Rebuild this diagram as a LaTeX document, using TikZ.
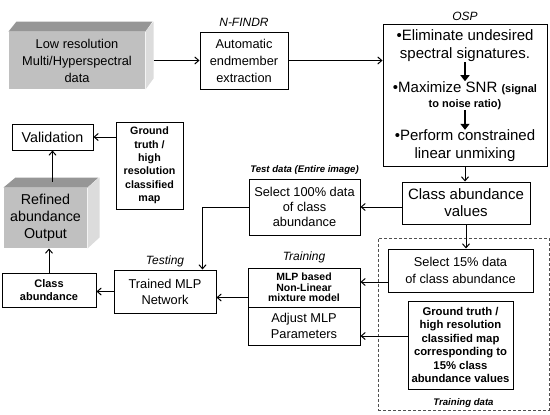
\documentclass[tikz,border=0pt]{standalone}
\usepackage{fontspec}
\setmainfont{Liberation Sans}
\usetikzlibrary{arrows.meta,positioning}
\definecolor{CubeFront}{HTML}{C0C0C0}
\definecolor{CubeTop}{HTML}{969696}
\definecolor{CubeSide}{HTML}{DCDCDC}
\definecolor{DashGray}{HTML}{505050}
\newcommand{\fsz}[2]{\fontsize{#1}{#2}\selectfont}

\begin{document}
\begin{tikzpicture}[x=1pt,y=-1pt,
  bx/.style={draw,line width=1pt,inner sep=0pt,align=center,font=\fsz{12.8}{17}},
  cb/.style={bx,draw=none,fill=CubeFront},
  bb/.style={bx,font=\fsz{10.7}{13.4}\bfseries},
  lb/.style={inner sep=0pt,font=\fsz{12}{14}\itshape},
  blb/.style={inner sep=0pt,font=\fsz{9.6}{11}\bfseries\itshape},
  a/.style={-{Straight Barb[length=4pt,width=7pt]},line width=1pt},
  ta/.style={-{Triangle[length=6pt,width=9pt]},line width=2.4pt}
]
  \useasboundingbox (0,0) rectangle (550,415);
  % top row
  \node[cb,minimum width=136,minimum height=57] (lowres) at (77,60.5)
    {Low resolution\\Multi/Hyperspectral\\data};
  \fill[CubeTop] (lowres.north west) -- ++(8,-10) -- ++(136,0) -- (lowres.north east) -- cycle;
  \fill[CubeSide] (lowres.north east) -- ++(8,-10) -- ++(0,57) -- (lowres.south east) -- cycle;
  \node[bx,minimum width=88,minimum height=57] (nfindr) at (244,60.5)
    {Automatic\\endmember\\extraction};
  \node[lb,above=5pt of nfindr] {N-FINDR};
  \node[bx,minimum width=164,minimum height=142] (osp) at (465,95) {};
  \node[lb,above=3pt of osp] {OSP};
  \node[inner sep=0pt,align=center,font=\fsz{15}{18}] (elim) at (465,46)
    {•Eliminate undesired\\spectral signatures.};
  \node[inner sep=0pt,align=center,font=\fsz{15}{18}] (snr) at (465,95.5)
    {•Maximize SNR {\fsz{11}{13}\bfseries (signal}\\[-3pt]{\fsz{11}{13}\bfseries to noise ratio)}};
  \node[inner sep=0pt,align=center,font=\fsz{15}{18}] (unmix) at (465,146)
    {•Perform constrained\\linear unmixing};
  \draw[ta] (elim) -- (snr);
  \draw[ta] (snr) -- (unmix);
  \draw[a] ([xshift=8pt]lowres.east) -- (nfindr.west);
  \draw[a] (nfindr.east) -- (nfindr.east -| osp.west);
  % middle
  \node[bx,font=\fsz{15}{17},minimum width=128,minimum height=42] (cav) at (466,203)
    {Class abundance\\values};
  \node[bx,font=\fsz{12.8}{15},minimum width=111,minimum height=56] (sel100) at (304.5,207)
    {Select 100\% data\\of class\\abundance};
  \node[blb,above=4pt of sel100] {Test data (Entire image)};
  \node[bx,font=\fsz{14.3}{17},minimum width=81,minimum height=26] (val) at (52.5,137) {Validation};
  \node[bb,minimum width=67,minimum height=87] (gtmap) at (149.5,165.5)
    {Ground\\truth /\\high\\resolution\\classified\\map};
  \node[cb,font=\fsz{14.3}{17},minimum width=83,minimum height=60] (refined) at (45.5,218)
    {Refined\\abundance\\Output};
  \fill[CubeTop] (refined.north west) -- ++(12,-10) -- ++(83,0) -- (refined.north east) -- cycle;
  \fill[CubeSide] (refined.north east) -- ++(12,-10) -- ++(0,60) -- (refined.south east) -- cycle;
  \draw[a] (osp.south) -- (osp.south |- cav.north);
  \draw[a] (cav.west |- sel100.east) -- (sel100.east);
  \draw[a] (gtmap.west |- val.east) -- (val.east);
  \draw[a] (val.south |- refined.north) ++(0,-6) -- (val.south);
  % bottom
  \node[bx,font=\fsz{12.8}{16},minimum width=102,minimum height=43] (tmlp) at (165,291.5)
    {Trained MLP\\Network};
  \node[lb,above=2pt of tmlp] {Testing};
  \node[bx,font=\fsz{11}{13.4}\bfseries,minimum width=94,minimum height=34] (cab) at (49,290)
    {Class\\abundance};
  \node[bx,font=\fsz{10.5}{10.6}\bfseries,minimum width=112,minimum height=39] (mlp) at (304,287.5)
    {MLP based\\Non-Linear\\mixture model};
  \node[bx,font=\fsz{12.8}{16},minimum width=112,minimum height=38] (adjust) at (304,326)
    {Adjust MLP\\Parameters};
  \node[lb,above=4pt of mlp] {Training};
  \node[draw=DashGray,line width=0.9pt,dash pattern=on 3pt off 2pt,minimum width=171,minimum height=172] (trdata) at (463.5,324) {};
  \node[blb,above=3pt of trdata.south] {Training data};
  \node[bx,minimum width=145,minimum height=43] (sel15) at (460.5,270.5)
    {Select 15\% data\\of class abundance};
  \node[bb,font=\fsz{11.3}{13.5}\bfseries,minimum width=105,minimum height=88] (gttrain) at (460.5,345)
    {Ground truth /\\high resolution\\classified map\\corresponding to\\15\% class\\abundance values};
  \draw[a] (cav.south) -- (cav.south |- sel15.north);
  \draw[a] ([yshift=-11.5pt]sel15.west) -- ([yshift=-11.5pt]sel15.west -| mlp.east);
  \draw[a] ([yshift=9pt]gttrain.west) -- ([yshift=9pt]gttrain.west -| adjust.east);
  \draw[a] ([yshift=-6pt]tmlp.east -| mlp.west) -- ([yshift=-6pt]tmlp.east);
  \draw[a] (sel100.west) -| ([xshift=-14pt]tmlp.north east);
  \draw[a] (tmlp.west) -- (tmlp.west -| cab.east);
  \draw[a] (cab.north) -- (cab.north |- refined.south);
\end{tikzpicture}
\end{document}
